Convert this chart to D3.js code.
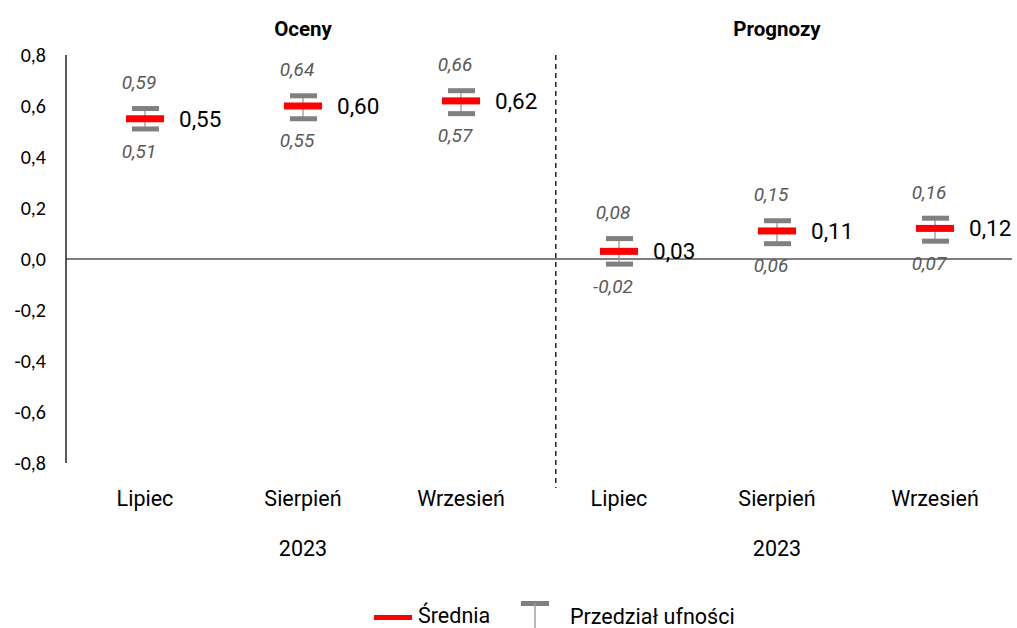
<!DOCTYPE html>
<html><head><meta charset="utf-8">
<script src="https://cdn.jsdelivr.net/npm/d3@7"></script>
<style>body{margin:0;background:#fff}svg{display:block}</style>
</head><body>
<svg id="c" width="1017" height="628"></svg>
<script>
const categories = ["Lipiec","Sierpień","Wrzesień","Lipiec","Sierpień","Wrzesień"];
const groups = ["Oceny","Prognozy"];
const groupYear = ["2023","2023"];
const means = [0.55,0.60,0.62,0.03,0.11,0.12];
const upper = [0.59,0.64,0.66,0.08,0.15,0.16];
const lower = [0.51,0.55,0.57,-0.02,0.06,0.07];
const yTicks = [-0.8,-0.6,-0.4,-0.2,0,0.2,0.4,0.6,0.8];
const dividerAt = 2.6;

const svg = d3.select("#c");
const fmt = v => d3.format(".2f")(v).replace(".", ",").replace("−","-");
const fmtT = v => d3.format(".1f")(v).replace(".", ",").replace("−","-");

const y = d3.scaleLinear().domain([-0.8,0.8]).range([463,55]);
const x = d3.scaleLinear().domain([0,5]).range([145,935]);
const axisX = 66;

// y axis
svg.append("line").attr("x1",axisX).attr("x2",axisX).attr("y1",y(0.8)).attr("y2",y(-0.8)).attr("stroke","#000").attr("stroke-width",1.3);
svg.selectAll("text.yt").data(yTicks).join("text").attr("class","yt")
  .attr("x",46).attr("y",d=>y(d)).attr("dy","0.35em").attr("text-anchor","end")
  .attr("font-family","Carlito, Lato, sans-serif").attr("font-size",20).attr("fill","#000")
  .text(fmtT);

// zero line
svg.append("line").attr("x1",axisX).attr("x2",1012).attr("y1",y(0)).attr("y2",y(0)).attr("stroke","#000").attr("stroke-width",1.2);

// divider
svg.append("line").attr("x1",x(dividerAt)).attr("x2",x(dividerAt)).attr("y1",y(0.8)).attr("y2",488)
  .attr("stroke","#000").attr("stroke-width",1.3).attr("stroke-dasharray","5,4");

// group titles
svg.selectAll("text.gt").data(groups).join("text").attr("class","gt")
  .attr("x",(d,i)=>x(i*3+1)).attr("y",29).attr("dy","0.35em").attr("text-anchor","middle")
  .attr("font-family","Roboto, sans-serif").attr("font-weight","bold").attr("font-size",20.5).attr("fill","#000").text(d=>d);

// categories
svg.selectAll("text.cat").data(categories).join("text").attr("class","cat")
  .attr("x",(d,i)=>x(i)).attr("y",498).attr("dy","0.35em").attr("text-anchor","middle")
  .attr("font-family","Roboto, sans-serif").attr("font-size",21.5).attr("fill","#000").text(d=>d);
svg.selectAll("text.yr").data(groupYear).join("text").attr("class","yr")
  .attr("x",(d,i)=>x(i*3+1)).attr("y",548).attr("dy","0.35em").attr("text-anchor","middle")
  .attr("font-family","Roboto, sans-serif").attr("font-size",21.5).attr("fill","#000").text(d=>d);

const g = svg.selectAll("g.pt").data(means).join("g").attr("class","pt");
g.append("line").attr("x1",(d,i)=>x(i)).attr("x2",(d,i)=>x(i)).attr("y1",(d,i)=>y(upper[i])).attr("y2",(d,i)=>y(lower[i])).attr("stroke","#999").attr("stroke-width",1.3);
g.append("rect").attr("x",(d,i)=>x(i)-13).attr("y",(d,i)=>y(upper[i])-2.5).attr("width",27).attr("height",5).attr("fill","#808080");
g.append("rect").attr("x",(d,i)=>x(i)-13).attr("y",(d,i)=>y(lower[i])-2.5).attr("width",27).attr("height",5).attr("fill","#808080");
g.append("rect").attr("x",(d,i)=>x(i)-19).attr("y",(d,i)=>y(d)-3.5).attr("width",38).attr("height",7).attr("fill","#ff0000");
g.append("text").attr("x",(d,i)=>x(i)+34).attr("y",(d,i)=>y(d)).attr("dy","0.35em")
  .attr("font-family","Roboto, sans-serif").attr("font-size",22.5).attr("fill","#000").text(d=>fmt(d));
g.append("text").attr("x",(d,i)=>x(i)-6).attr("y",(d,i)=>y(upper[i])-26).attr("dy","0.35em").attr("text-anchor","middle")
  .attr("font-family","Roboto, sans-serif").attr("font-style","italic").attr("font-size",19).attr("fill","#595959").text((d,i)=>fmt(upper[i]));
g.append("text").attr("x",(d,i)=>x(i)-6).attr("y",(d,i)=>y(lower[i])+22).attr("dy","0.35em").attr("text-anchor","middle")
  .attr("font-family","Roboto, sans-serif").attr("font-style","italic").attr("font-size",19).attr("fill","#595959").text((d,i)=>fmt(lower[i]));

// legend
const lg = svg.append("g");
lg.append("rect").attr("x",374).attr("y",615).attr("width",38).attr("height",5).attr("fill","#ff0000");
lg.append("text").attr("x",418).attr("y",615).attr("dy","0.35em").attr("font-family","Roboto, sans-serif").attr("font-size",21.5).attr("fill","#000").text("Średnia");
lg.append("rect").attr("x",521).attr("y",601).attr("width",28).attr("height",5).attr("fill","#808080");
lg.append("line").attr("x1",535).attr("x2",535).attr("y1",603).attr("y2",628).attr("stroke","#a0a0a0").attr("stroke-width",1.5);
lg.append("text").attr("x",570).attr("y",616).attr("dy","0.35em").attr("font-family","Roboto, sans-serif").attr("font-size",21.5).attr("fill","#000").text("Przedział ufności");
</script>
</body></html>
